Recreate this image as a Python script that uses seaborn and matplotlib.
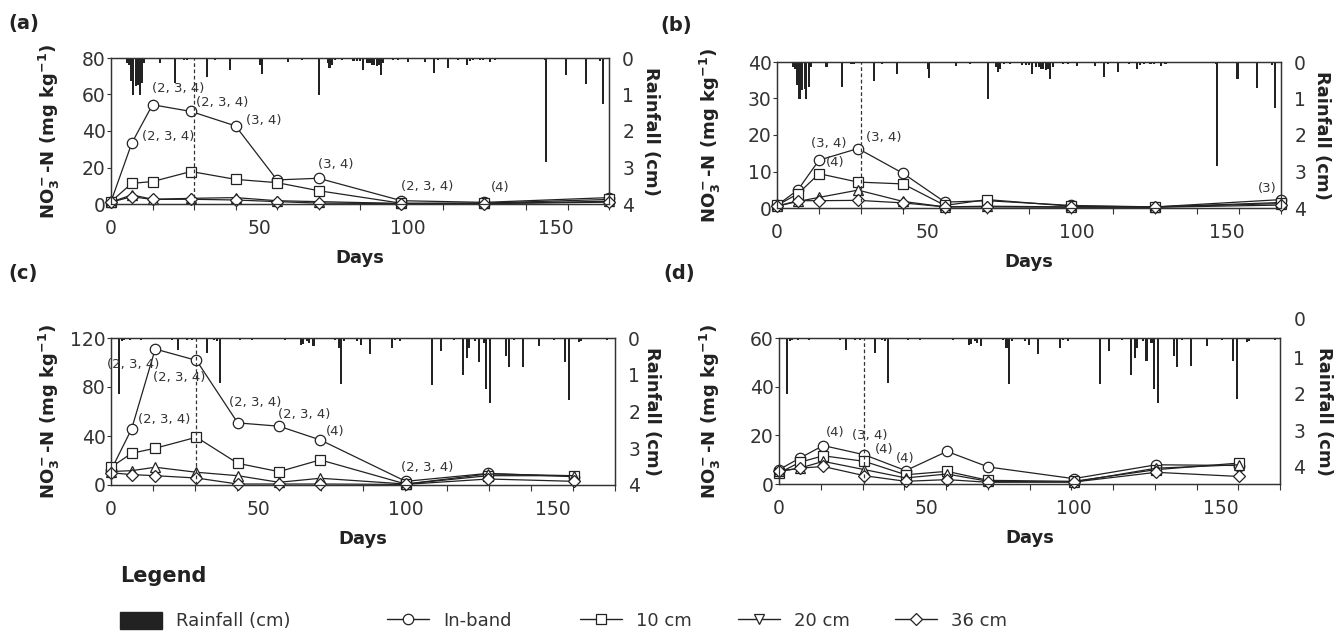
import numpy as np
import pandas as pd
import matplotlib
matplotlib.use("Agg")
import matplotlib.pyplot as plt
import matplotlib.transforms as mtransforms
from matplotlib.lines import Line2D
from matplotlib.patches import Patch
from matplotlib.ticker import FixedLocator
import seaborn as sns

sns.set_theme(style="white")
plt.rcParams["font.family"] = ["DejaVu Sans"]
plt.rcParams["mathtext.default"] = "bf"

# ---------------- data ----------------
depths = ["In-band", "10 cm", "20 cm", "36 cm"]

days_ab = [0, 7, 14, 27, 42, 56, 70, 98, 126, 168]
days_cd = [0, 7, 15, 29, 43, 57, 71, 100, 128, 157]
days_d = [0, 7, 15, 29, 43, 57, 71, 100, 128, 156]

a_inband = [1.3, 33.3, 54.4, 50.7, 42.8, 13.2, 14.1, 1.8, 0.9, 3.5]
a_10 = [1.3, 11.3, 12.3, 17.8, 13.5, 11.7, 7.3, 0.4, 0.5, 2.5]
a_20 = [1.0, 5.0, 2.6, 3.1, 3.5, 1.8, 1.3, 0.3, 0.3, 1.5]
a_36 = [1.0, 4.0, 2.5, 2.6, 2.2, 1.3, 0.5, 0.2, 0.2, 1.0]

b_inband = [0.7, 5.0, 13.1, 16.3, 9.5, 1.6, 2.0, 0.7, 0.3, 2.3]
b_10 = [0.7, 3.9, 9.4, 7.1, 6.6, 0.7, 2.3, 0.5, 0.3, 1.5]
b_20 = [0.5, 1.8, 2.9, 4.9, 1.8, 0.3, 0.5, 0.3, 0.3, 1.2]
b_36 = [0.5, 2.0, 2.0, 2.1, 1.4, 0.3, 0.3, 0.2, 0.2, 0.8]

c_inband = [12.0, 45.8, 111.0, 101.7, 50.7, 48.0, 36.8, 3.0, 9.5, 6.8]
c_10 = [14.5, 25.9, 30.0, 39.0, 17.7, 10.9, 20.5, 0.8, 7.6, 7.6]
c_20 = [11.0, 11.7, 14.5, 10.4, 7.6, 2.2, 5.5, 0.8, 9.0, 7.6]
c_36 = [10.0, 8.5, 7.6, 5.7, 0.8, 0.8, 0.8, 0.5, 4.9, 3.0]

d_inband = [5.9, 10.6, 15.8, 12.0, 5.5, 13.4, 7.0, 2.2, 7.9, 7.6]
d_10 = [4.5, 8.9, 11.6, 9.3, 3.8, 5.2, 1.5, 1.1, 5.9, 8.6]
d_20 = [5.2, 6.5, 9.3, 5.9, 2.5, 4.1, 1.1, 0.8, 6.5, 7.9]
d_36 = [5.2, 6.5, 7.2, 3.4, 1.1, 1.8, 0.7, 0.8, 4.8, 3.1]

rain_ab_day = [5.3, 6.1, 6.7, 7.5, 8.3, 9.2, 9.8, 10.6, 11.2, 16.5, 21.6, 24.7, 25.5,
               32.3, 35.1, 40.1, 50.3, 50.8, 59.6, 64.3, 70.3, 73.1, 73.7, 74.4, 75.6,
               77.8, 81.8, 82.9, 84.0, 85.1, 86.3, 87.2, 88.0, 88.8, 89.6, 90.4, 91.1,
               91.9, 95.2, 96.9, 100.1, 105.9, 109.1, 110.4, 113.8, 117.2, 120.0, 121.1,
               122.2, 124.5, 125.6, 127.9, 129.5, 132.9, 146.4, 146.8, 153.5, 160.1,
               165.0, 166.0]
rain_ab_cm = [0.14, 0.18, 0.64, 1.0, 0.78, 0.73, 1.0, 0.68, 0.14, 0.14, 0.68, 0.05, 0.05,
              0.53, 0.05, 0.32, 0.18, 0.44, 0.11, 0.05, 1.0, 0.14, 0.27, 0.18, 0.05,
              0.05, 0.09, 0.07, 0.09, 0.32, 0.14, 0.14, 0.18, 0.18, 0.23, 0.18, 0.46,
              0.14, 0.05, 0.05, 0.11, 0.11, 0.41, 0.05, 0.27, 0.05, 0.18, 0.09,
              0.05, 0.05, 0.05, 0.11, 0.05, 0.03, 0.05, 2.86, 0.47, 0.72,
              0.09, 1.25]

rain_cd_day = [2.7, 3.6, 4.5, 6.5, 10.2, 11.5, 20.6, 22.6, 25.7, 27.4, 32.5, 34.8, 35.9,
               37.0, 43.8, 47.8, 59.1, 64.5, 65.3, 66.4, 67.2, 68.7, 76.1, 77.2, 78.1,
               79.2, 83.4, 84.9, 87.9, 95.3, 96.4, 98.1, 108.8, 112.1, 116.3, 119.5,
               120.8, 121.6, 123.6, 124.7, 126.4, 127.3, 128.6, 134.0, 135.1, 136.6,
               139.8, 145.1, 150.2, 154.0, 155.3, 158.7, 159.6, 168.3]
rain_cd_cm = [1.53, 0.09, 0.05, 0.05, 0.05, 0.03, 0.05, 0.32, 0.05, 0.05, 0.41, 0.05, 0.09,
              1.23, 0.05, 0.05, 0.05, 0.18, 0.16, 0.09, 0.14, 0.23, 0.05, 0.27, 1.26,
              0.09, 0.09, 0.18, 0.44, 0.27, 0.05, 0.09, 1.27, 0.35, 0.05, 1.0,
              0.55, 0.27, 0.09, 0.64, 0.14, 1.4, 1.77, 0.5, 0.8, 0.05,
              0.78, 0.23, 0.05, 0.64, 1.68, 0.11, 0.09, 0.05]

x_tick_labels = [0, 50, 100, 150]
rain_ticks = [0, 1, 2, 3, 4]

a_note_idx = [2, 3, 4, 1, 6, 7, 8]
a_note_txt = ["(2, 3, 4)", "(2, 3, 4)", "(3, 4)", "(2, 3, 4)", "(3, 4)", "(2, 3, 4)", "(4)"]
b_note_idx = [2, 2, 3, 9]
b_note_txt = ["(3, 4)", "(4)", "(3, 4)", "(3)"]
c_note_idx = [2, 3, 1, 4, 5, 6, 7]
c_note_txt = ["(2, 3, 4)", "(2, 3, 4)", "(2, 3, 4)", "(2, 3, 4)", "(2, 3, 4)", "(4)", "(2, 3, 4)"]
d_note_idx = [2, 3, 3, 4]
d_note_txt = ["(4)", "(3, 4)", "(4)", "(4)"]

# ---------------- styles / layout ----------------
W, H = 1336, 640
INK = "#222222"
TXT = "#333333"
marker_map = {"In-band": "o", "10 cm": "s", "20 cm": "^", "36 cm": "D"}

a_note_off = [(0, 16, "left"), (5, 9, "left"), (11, 5, "left"), (10, 7, "left"),
              (-1, 14, "left"), (0, 14, "left"), (6, 15, "left")]
b_note_off = [(-8, 17, "left"), (7, -2, "left"), (8, 11, "left"), (-4, 11, "right")]
c_note_off = [(4, -15, "right"), (9, -17, "right"), (6, 9, "left"), (-9, 20, "left"),
              (-1, 12, "left"), (6, 8, "left"), (-5, 14, "left")]
d_note_off = [(3, 13, "left"), (-12, 19, "left"), (10, 5, "left"), (-10, 12, "left")]

panels = [
    dict(tag="(a)", tagpos=(8, 23), box=(111, 609, 58, 204), days=days_ab,
         series=[a_inband, a_10, a_20, a_36], ymax=80, ystep=20, xlim=(0, 168),
         rain=(rain_ab_day, rain_ab_cm), roff=0.0, vline=28,
         notes=(a_note_idx, a_note_txt, a_note_off), lpad=-49, rpad=33),
    dict(tag="(b)", tagpos=(660, 25), box=(777, 1281, 62, 208), days=days_ab,
         series=[b_inband, b_10, b_20, b_36], ymax=40, ystep=10, xlim=(0, 168),
         rain=(rain_ab_day, rain_ab_cm), roff=0.0, vline=28,
         notes=(b_note_idx, b_note_txt, b_note_off), lpad=-54, rpad=32),
    dict(tag="(c)", tagpos=(8, 273), box=(111, 615, 338, 485), days=days_cd,
         series=[c_inband, c_10, c_20, c_36], ymax=120, ystep=40, xlim=(0, 171),
         rain=(rain_cd_day, rain_cd_cm), roff=0.0, vline=29,
         notes=(c_note_idx, c_note_txt, c_note_off), lpad=-49, rpad=28),
    dict(tag="(d)", tagpos=(663, 273), box=(779, 1280, 338, 484), days=days_d,
         series=[d_inband, d_10, d_20, d_36], ymax=60, ystep=20, xlim=(0, 170),
         rain=(rain_cd_day, rain_cd_cm), roff=0.47, vline=29,
         notes=(d_note_idx, d_note_txt, d_note_off), lpad=-56, rpad=35),
]

fig = plt.figure(figsize=(W / 100, H / 100), dpi=100)

for p in panels:
    l, r, t, b = p["box"]
    w_px, h_px = r - l, b - t
    ax = fig.add_axes([l / W, 1 - b / H, w_px / W, h_px / H])
    ax2 = ax.twinx()

    # rainfall bars (hanging from the top, inverted right axis)
    rd, rc = p["rain"]
    off = p["roff"]
    ax2.bar(rd, rc, width=0.7, bottom=off, color=INK, linewidth=0, align="center")
    ax2.set_ylim(4 + off, off)
    ax2.set_yticks([v for v in rain_ticks if v >= off])
    ax2.tick_params(axis="y", length=0, pad=9.5, labelsize=13.5, labelcolor=TXT)
    if off > 0:
        tr = mtransforms.blended_transform_factory(ax2.transAxes, ax2.transData)
        ax2.text(1 + 13.5 / w_px, rain_ticks[0], str(rain_ticks[0]), transform=tr,
                 ha="left", va="center", fontsize=13.5, color=TXT, clip_on=False)
    ax2.set_ylabel("Rainfall (cm)", rotation=270, va="bottom", fontsize=13,
                   fontweight="bold", color=INK)
    ax2.yaxis.set_label_coords(1 + p["rpad"] / w_px, 0.5)

    ax.set_zorder(ax2.get_zorder() + 1)
    ax.patch.set_visible(False)

    # nitrate series
    df = pd.DataFrame({
        "day": np.tile(p["days"], 4),
        "val": np.concatenate(p["series"]),
        "depth": np.repeat(depths, len(p["days"])),
    })
    sns.lineplot(data=df, x="day", y="val", style="depth", markers=marker_map,
                 dashes=False, color=INK, ax=ax, legend=False, estimator=None,
                 sort=False, linewidth=0.9, markersize=7.5, markerfacecolor="white",
                 markeredgecolor=INK, markeredgewidth=0.9, clip_on=False)
    for ln in ax.lines:
        if ln.get_marker() == "D":
            ln.set_markersize(5.8)

    ax.axvline(p["vline"], color=TXT, lw=0.9, ls=(0, (3, 2)))

    ax.set_xlim(*p["xlim"])
    ax.set_ylim(0, p["ymax"])
    ax.set_xticks(x_tick_labels)
    ax.xaxis.set_minor_locator(FixedLocator(np.linspace(p["xlim"][0], p["xlim"][1], 13)))
    ax.set_yticks(np.arange(0, p["ymax"] + 1, p["ystep"]))
    ax.tick_params(axis="x", which="major", length=0, pad=11, labelsize=13.5,
                   labelcolor=TXT)
    ax.tick_params(axis="x", which="minor", length=4, width=0.8, color=TXT,
                   direction="out", bottom=True)
    ax.tick_params(axis="y", which="major", length=3, width=0.8, color=TXT, pad=1,
                   direction="out", left=True, labelsize=13.5, labelcolor=TXT)

    ax.set_xlabel("Days", fontsize=13, fontweight="bold", color=INK)
    ax.xaxis.set_label_coords(0.5, -45 / h_px)
    ax.set_ylabel(r"NO$_3^-$-N (mg kg$^{-1}$)", fontsize=13, fontweight="bold", color=INK)
    ax.yaxis.set_label_coords(p["lpad"] / w_px, 0.5)

    for a_ in (ax, ax2):
        for s in a_.spines.values():
            s.set_visible(True)
            s.set_color(TXT)
            s.set_linewidth(0.9)

    idx_list, txt_list, off_list = p["notes"]
    for i, txt, (dx, dy, ha) in zip(idx_list, txt_list, off_list):
        ax.annotate(txt, xy=(p["days"][i], p["series"][0][i]), xytext=(dx, dy),
                    textcoords="offset pixels", ha=ha, va="center", fontsize=9.5,
                    color=TXT)

    fig.text(p["tagpos"][0] / W, 1 - p["tagpos"][1] / H, p["tag"], fontsize=14,
             fontweight="bold", color=INK, ha="left", va="center")

# ---------------- legend ----------------
fig.text(120 / W, 1 - 576 / H, "Legend", fontsize=15, fontweight="bold", color=INK,
         ha="left", va="center")

legend_labels = ["Rainfall (cm)", "In-band", "10 cm", "20 cm", "36 cm"]
legend_markers = [None, "o", "s", "v", "D"]
legend_x = [120, 387, 580, 738, 895]
for lab, mk, xp in zip(legend_labels, legend_markers, legend_x):
    if mk is None:
        h = Patch(facecolor=INK, edgecolor=INK)
    else:
        h = Line2D([], [], color=INK, lw=1.0, marker=mk,
                   markersize=5.8 if mk == "D" else 7.5,
                   markerfacecolor="white", markeredgecolor=INK, markeredgewidth=0.9)
    fig.legend(handles=[h], labels=[lab], loc="center left",
               bbox_to_anchor=(xp / W, 1 - 621 / H), frameon=False, fontsize=13,
               handlelength=2.3, handleheight=1.1, handletextpad=0.8,
               borderpad=0, borderaxespad=0, labelcolor=TXT)

fig.savefig("out.png", dpi=100)
